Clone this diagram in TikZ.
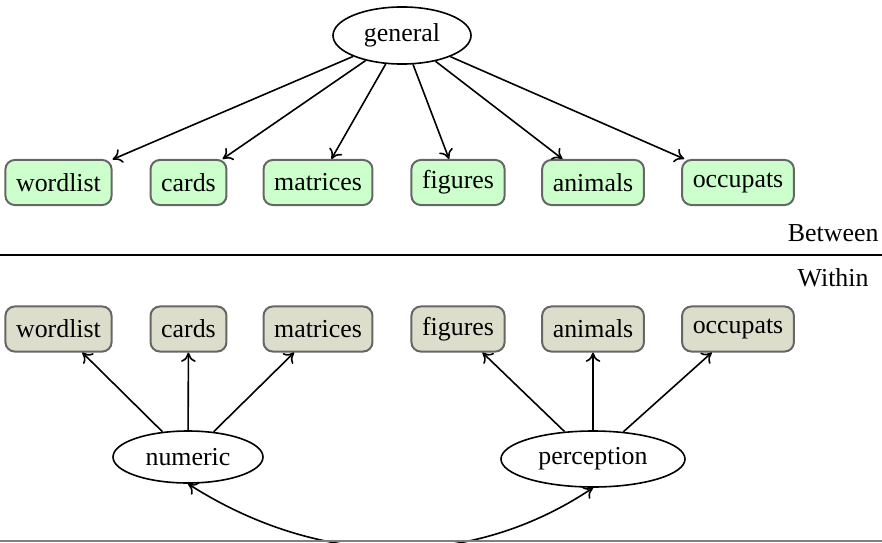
\documentclass[tikz,border=0pt]{standalone}
\usepackage{fontspec}
\setmainfont{Liberation Serif}
\usetikzlibrary{shapes.geometric,arrows.meta}
\definecolor{boxgreen}{HTML}{CCFFCC}
\definecolor{boxgray}{HTML}{DDDDCC}
\definecolor{boxedge}{HTML}{666666}
\begin{document}
\begin{tikzpicture}[x=0.375pt,y=-0.375pt,
  font=\fontsize{9.7}{11}\selectfont,
  obs/.style={draw=boxedge,line width=0.75pt,rounded corners=3.5pt,inner xsep=4pt,inner ysep=0pt,minimum height=16.9pt},
  gobs/.style={obs,fill=boxgreen},
  wobs/.style={obs,fill=boxgray},
  lat/.style={draw,ellipse,line width=0.6pt,inner sep=0pt},
  tip/.tip={To[length=3.5pt,width=5.5pt,line width=0.6pt]},
  arr/.style={-tip,line width=0.6pt}]
\useasboundingbox (0,0) rectangle (882,542);
\clip (0,0) rectangle (882,542);
% top level
\node[lat,minimum width=51.75pt,minimum height=21.4pt] (general) at (402,35.5) {general};
\node[gobs] (w1) at (58.5,182.5) {wordlist};
\node[gobs] (c1) at (188.5,182.5) {cards};
\node[gobs] (m1) at (318,182.5) {matrices};
\node[gobs] (f1) at (458,182.5) {figures};
\node[gobs] (a1) at (593,182.5) {animals};
\node[gobs] (o1) at (738,182.5) {occupats};
\foreach \t in {w1,c1,m1,f1,a1,o1} \draw[arr] (general) -- (\t);
% separator
\coordinate (sepL) at (0,255);
\coordinate (sepR) at (882,255);
\draw[line width=0.5pt] (sepL) -- (sepR);
\node[anchor=base east,inner sep=0pt] (between) at (879,241) {Between};
\node[anchor=base east,inner sep=0pt] (within) at (869,286) {Within};
% within level
\node[wobs] (w2) at (58.5,329) {wordlist};
\node[wobs] (c2) at (188.5,329) {cards};
\node[wobs] (m2) at (318,329) {matrices};
\node[wobs] (f2) at (458,329) {figures};
\node[wobs] (a2) at (593,329) {animals};
\node[wobs] (o2) at (738,329) {occupats};
\node[lat,minimum width=56.25pt,minimum height=19.5pt] (numeric) at (188,457) {numeric};
\node[lat,minimum width=69pt,minimum height=21pt] (perception) at (593,459) {perception};
\foreach \t in {w2,c2,m2} \draw[arr] (numeric) -- (\t);
\foreach \t in {f2,a2,o2} \draw[arr] (perception) -- (\t);
\draw[arr,tip-tip] (numeric.south) .. controls (320,568) and (470,570) .. (perception.south);
% bottom line
\coordinate (botL) at (0,541);
\coordinate (botR) at (882,541);
\draw[line width=0.6pt,gray] (botL) -- (botR);
\end{tikzpicture}
\end{document}
